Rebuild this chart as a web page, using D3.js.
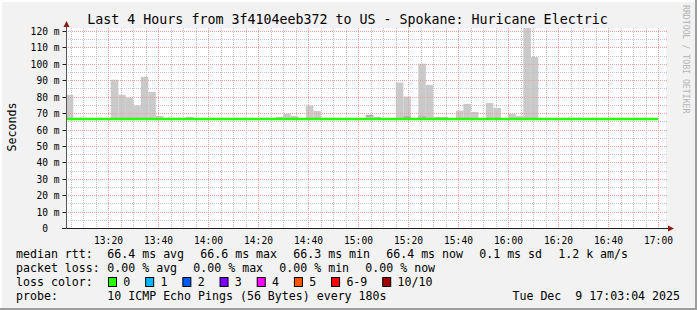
<!DOCTYPE html>
<html>
<head>
<meta charset="utf-8">
<title>SmokePing - Spokane</title>
<script src="https://cdnjs.cloudflare.com/ajax/libs/d3/7.8.5/d3.min.js"></script>
<style>
  body { margin: 0; background: #ffffff; }
  svg { display: block; font-family: 'DejaVu Sans Mono', monospace; }
  text { white-space: pre; }
</style>
</head>
<body>
<script>
const title = 'Last 4 Hours from 3f4104eeb372 to US - Spokane: Huricane Electric';
const yTitle = 'Seconds';
const sideNote = 'RRDTOOL / TOBI OETIKER';

// axis ticks
const xTickLabels = ['13:20', '13:40', '14:00', '14:20', '14:40', '15:00', '15:20',
                     '15:40', '16:00', '16:20', '16:40', '17:00'];
const yTickValues = [0, 10, 20, 30, 40, 50, 60, 70, 80, 90, 100, 110, 120];
const yTickLabels = ['0  ', '10 m', '20 m', '30 m', '40 m', '50 m', '60 m', '70 m',
                     '80 m', '90 m', '100 m', '110 m', '120 m'];

// smoke (3 min steps): start time of the step and highest ping, ms
const smokeTimes = ['13:03', '13:21', '13:24', '13:27', '13:30', '13:33', '13:36', '13:39',
                    '13:51', '14:27', '14:30', '14:33', '14:39', '14:42', '15:03', '15:06',
                    '15:15', '15:18', '15:24', '15:27', '15:30', '15:33', '15:39', '15:42',
                    '15:45', '15:51', '15:54', '16:00', '16:03', '16:06', '16:09'];
const smokeMax = [81.1, 90.3, 81.1, 79.4, 74.6, 92.0, 82.9, 68.3,
                  67.7, 67.7, 69.5, 68.3, 74.6, 71.3, 68.9, 67.7,
                  88.6, 80.1, 100.1, 87.2, 67.7, 67.7, 71.5, 75.6,
                  70.7, 76.2, 73.2, 69.5, 68.3, 121.8, 104.2];
const smokeFloor = 66.0;

// darker inner smoke
const darkTimes = ['15:03', '15:18', '15:24'];
const darkLow = [67.9, 67.2, 67.4];
const darkHigh = [68.9, 68.0, 68.0];

// median rtt line
const medianTimes = ['13:03', '17:00'];
const medianValues = [66.4, 66.4];

// legend
const rttStats = ['66.4 ms avg', '66.6 ms max', '66.3 ms min', '66.4 ms now', '0.1 ms sd', '1.2 k am/s'];
const lossStats = ['0.00 % avg', '0.00 % max', '0.00 % min', '0.00 % now'];
const lossLabels = ['0', '1', '2', '3', '4', '5', '6-9', '10/10'];
const lossColors = ['#26ff00', '#00b8ff', '#0059ff', '#7e00ff', '#ff00ff', '#ff5500', '#ff0000', '#a10000'];
const probeText = '10 ICMP Echo Pings (56 Bytes) every 180s';
const stamp = 'Tue Dec  9 17:03:04 2025';

const W = 697, H = 310;
const plot = {left: 66, right: 666, top: 28, bottom: 228};
const startMin = 13 * 60 + 3 + 4 / 60;
const toMin = (s) => { const p = s.split(':'); return +p[0] * 60 + +p[1]; };
const crisp = (v) => Math.round(v) + 0.5;

const x = d3.scaleLinear().domain([startMin, startMin + 240]).range([plot.left, plot.right]);
const y = d3.scaleLinear().domain([0, 121.83]).range([plot.bottom, plot.top]);

const svg = d3.select('body').append('svg').attr('width', W).attr('height', H);

// background + 3d frame
svg.append('rect').attr('width', W).attr('height', H).attr('fill', '#f2f2f2');
svg.append('path').attr('d', `M1,${H} V1 H${W}`).attr('fill', 'none')
    .attr('stroke', '#ffffff').attr('stroke-width', 2);
svg.append('path').attr('d', `M0,${H - 1} H${W - 1} V0`).attr('fill', 'none')
    .attr('stroke', '#9e9e9e').attr('stroke-width', 2);

// canvas
svg.append('rect')
    .attr('x', plot.left).attr('y', plot.top)
    .attr('width', plot.right - plot.left).attr('height', plot.bottom - plot.top)
    .attr('fill', '#ffffff');

svg.append('clipPath').attr('id', 'clip').append('rect')
    .attr('x', plot.left).attr('y', plot.top)
    .attr('width', plot.right - plot.left).attr('height', plot.bottom - plot.top);

// smoke
const smoke = svg.append('g').attr('clip-path', 'url(#clip)');
smoke.selectAll('rect.smoke')
    .data(smokeTimes.map((t, i) => ({t: toMin(t), hi: smokeMax[i]})))
    .enter().append('rect')
    .attr('class', 'smoke')
    .attr('x', (d) => x(d.t))
    .attr('width', (d) => x(d.t + 3) - x(d.t))
    .attr('y', (d) => y(d.hi))
    .attr('height', (d) => y(smokeFloor) - y(d.hi))
    .attr('fill', '#cacaca');

smoke.selectAll('rect.dark')
    .data(darkTimes.map((t, i) => ({t: toMin(t), lo: darkLow[i], hi: darkHigh[i]})))
    .enter().append('rect')
    .attr('class', 'dark')
    .attr('x', (d) => x(d.t))
    .attr('width', (d) => x(d.t + 3) - x(d.t))
    .attr('y', (d) => y(d.hi))
    .attr('height', (d) => y(d.lo) - y(d.hi))
    .attr('fill', '#a9a9a9');

// grid
const grid = svg.append('g');
const majorX = xTickLabels.map(toMin);
const minorX = d3.range(Math.ceil(startMin / 5) * 5, startMin + 240, 5).filter((m) => m % 20 !== 0);
const minorY = d3.range(5, 121.83, 10);

grid.selectAll('line.mx').data(minorX).enter().append('line')
    .attr('x1', (d) => crisp(x(d))).attr('x2', (d) => crisp(x(d)))
    .attr('y1', plot.top).attr('y2', plot.bottom + 2)
    .attr('stroke', '#c4c4c4').attr('stroke-dasharray', '1,1');
grid.selectAll('line.my').data(minorY).enter().append('line')
    .attr('y1', (d) => crisp(y(d))).attr('y2', (d) => crisp(y(d)))
    .attr('x1', plot.left).attr('x2', plot.right + 2)
    .attr('stroke', '#c4c4c4').attr('stroke-dasharray', '1,1');
grid.selectAll('line.Mx').data(majorX).enter().append('line')
    .attr('x1', (d) => crisp(x(d))).attr('x2', (d) => crisp(x(d)))
    .attr('y1', plot.top).attr('y2', plot.bottom + 2)
    .attr('stroke', '#f0a0a0').attr('stroke-dasharray', '1,1');
grid.selectAll('line.My').data(yTickValues.slice(1)).enter().append('line')
    .attr('y1', (d) => crisp(y(d))).attr('y2', (d) => crisp(y(d)))
    .attr('x1', plot.left).attr('x2', plot.right + 2)
    .attr('stroke', '#f0a0a0').attr('stroke-dasharray', '1,1');

// median line
svg.append('path')
    .datum(medianTimes.map((t, i) => [toMin(t), medianValues[i]]))
    .attr('clip-path', 'url(#clip)')
    .attr('d', d3.line().x((d) => x(d[0])).y((d) => y(d[1])))
    .attr('fill', 'none')
    .attr('stroke', lossColors[0])
    .attr('stroke-width', 2.6);

// axes
const yAxis = d3.axisLeft(y)
    .tickValues(yTickValues)
    .tickFormat((d, i) => yTickLabels[i])
    .tickSize(4).tickPadding(3);
const yg = svg.append('g').attr('transform', `translate(${plot.left + 0.5},0)`).call(yAxis);
yg.select('.domain').remove();
yg.selectAll('.tick').attr('transform', (d) => `translate(0,${crisp(y(d))})`);
yg.selectAll('.tick line').attr('stroke', '#1f1f1f');
yg.selectAll('.tick text')
    .attr('xml:space', 'preserve')
    .attr('font-family', 'DejaVu Sans Mono').attr('font-size', 9.6)
    .attr('fill', '#000');

const xAxis = d3.axisBottom(x)
    .tickValues(majorX)
    .tickFormat((d, i) => xTickLabels[i])
    .tickSize(0).tickPadding(9);
const xg = svg.append('g').attr('transform', `translate(0,${plot.bottom})`).call(xAxis);
xg.select('.domain').remove();
xg.selectAll('.tick').attr('transform', (d) => `translate(${crisp(x(d))},0)`);
xg.selectAll('.tick text')
    .attr('font-family', 'DejaVu Sans Mono').attr('font-size', 9.6).attr('fill', '#000');

// axis lines and arrows
svg.append('line').attr('x1', 62).attr('x2', 669).attr('y1', plot.bottom + 0.5).attr('y2', plot.bottom + 0.5)
    .attr('stroke', '#1f1f1f');
svg.append('line').attr('x1', plot.left + 0.5).attr('x2', plot.left + 0.5).attr('y1', plot.bottom + 1).attr('y2', 25)
    .attr('stroke', '#555555');
svg.append('path').attr('d', `M${plot.left + 0.5},21 L${plot.left + 3.5},27 L${plot.left - 2.5},27 Z`)
    .attr('fill', '#8b1a1a');
svg.append('path').attr('d', `M674,${plot.bottom + 0.5} L668,${plot.bottom - 2.5} L668,${plot.bottom + 3.5} Z`)
    .attr('fill', '#8b1a1a');

// title
svg.append('text')
    .attr('x', 347.5).attr('y', 23.5)
    .attr('text-anchor', 'middle')
    .attr('font-size', 13.3)
    .text(title);

svg.append('text')
    .attr('transform', 'translate(15.5,127) rotate(-90)')
    .attr('text-anchor', 'middle')
    .attr('font-size', 11.6)
    .text(yTitle);

svg.append('text')
    .attr('transform', 'translate(683,5) rotate(90)')
    .attr('font-size', 8.2)
    .attr('fill', '#b4b4b4')
    .text(sideNote);

// legend
const charW = 6.98;
const valueX = 107.3;
const gap = 16.2;
const legend = svg.append('g').attr('font-size', 11.6);

const addText = (tx, ty, s) => legend.append('text')
    .attr('xml:space', 'preserve').attr('x', tx).attr('y', ty).text(s);

const statLine = (label, items, base) => {
    addText(16, base, label);
    let cx = valueX;
    items.forEach((s) => {
        addText(cx, base, s);
        cx += s.length * charW + gap;
    });
};
statLine('median rtt:', rttStats, 258);
statLine('packet loss:', lossStats, 272);

addText(16, 286, 'loss color:');
let bx = 108.5;
lossLabels.forEach((lab, i) => {
    legend.append('rect')
        .attr('x', bx).attr('y', 277.5).attr('width', 8).attr('height', 9)
        .attr('fill', lossColors[i]).attr('stroke', '#000');
    addText(bx + 14.8, 286, lab);
    bx += 14.8 + lab.length * charW + 15.4;
});

addText(16, 299.5, 'probe:');
addText(valueX, 299.5, probeText);
addText(680, 299.5, stamp).attr('text-anchor', 'end');
</script>
</body>
</html>
